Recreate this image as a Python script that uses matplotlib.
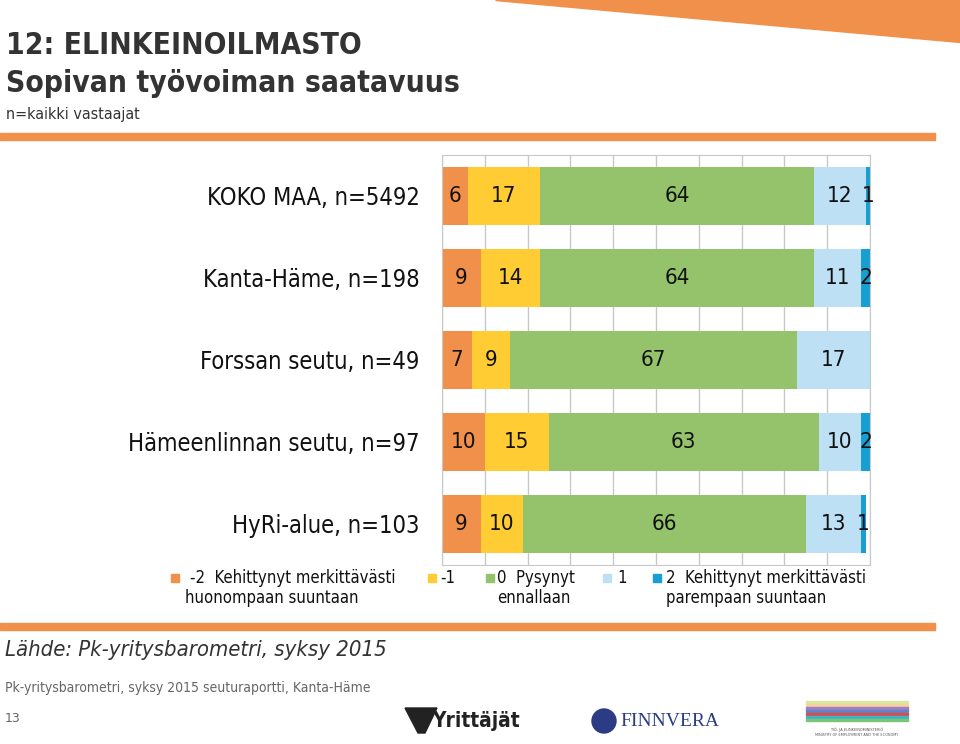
import matplotlib
matplotlib.use("Agg")
import matplotlib.pyplot as plt
from matplotlib.patches import Polygon, Rectangle, Ellipse

# Data
categories = ["KOKO MAA, n=5492", "Kanta-Häme, n=198", "Forssan seutu, n=49",
              "Hämeenlinnan seutu, n=97", "HyRi-alue, n=103"]
v_m2 = [6, 9, 7, 10, 9]
v_m1 = [17, 14, 9, 15, 10]
v_0 = [64, 64, 67, 63, 66]
v_p1 = [12, 11, 17, 10, 13]
v_p2 = [1, 2, 0, 2, 1]
series = [v_m2, v_m1, v_0, v_p1, v_p2]
colors = ["#F0904A", "#FFCC33", "#94C36C", "#BDE0F5", "#179FD2"]
legend_labels = ["-2  Kehittynyt merkittävästi\nhuonompaan suuntaan", "-1",
                 "0  Pysynyt\nennallaan", "1",
                 "2  Kehittynyt merkittävästi\nparempaan suuntaan"]

stretch = "condensed"
plt.rcParams['font.family'] = ["DejaVu Sans"]

fig = plt.figure(figsize=(9.6, 7.44), dpi=100)
W, H = 960, 744

def fx(x):
    return x / W

def fy(y):
    return 1 - y / H

# decorative wedge and bars
fig.patches.append(Polygon([[fx(495), fy(0)], [fx(960), fy(0)], [fx(960), fy(42)]],
                           closed=True, transform=fig.transFigure, color="#F0904A", zorder=0))
fig.patches.append(Rectangle((0, fy(140)), fx(935), 7 / H, transform=fig.transFigure,
                             color="#F0904A", zorder=0))
fig.patches.append(Rectangle((0, fy(630)), fx(935), 7 / H, transform=fig.transFigure,
                             color="#F0904A", zorder=0))

tc = "#333333"
fig.text(fx(6), fy(46), "12: ELINKEINOILMASTO", fontsize=21.5, fontweight="bold",
         color=tc, va="center", fontstretch=stretch)
fig.text(fx(6), fy(84), "Sopivan työvoiman saatavuus", fontsize=21.5, fontweight="bold",
         color=tc, va="center", fontstretch=stretch)
fig.text(fx(6), fy(114), "n=kaikki vastaajat", fontsize=11.5, color=tc, va="center",
         fontstretch=stretch)

# chart
ax = fig.add_axes([fx(442), fy(565), fx(870) - fx(442), (565 - 155) / H])
y = list(range(len(categories)))
left = [0] * len(categories)
for vals, col in zip(series, colors):
    ax.barh(y, vals, left=left, height=0.7, color=col, zorder=2)
    for i, v in enumerate(vals):
        if v > 0:
            ax.text(left[i] + v / 2, i, str(v), ha="center", va="center",
                    fontsize=16, color="#111111", zorder=3, fontstretch=stretch)
    left = [l + v for l, v in zip(left, vals)]

ax.set_xlim(0, 100)
ax.set_ylim(len(categories) - 0.5, -0.5)
ax.set_xticks(range(0, 101, 10))
ax.xaxis.grid(True, color="#C8C8C8", linewidth=1, zorder=0)
ax.set_axisbelow(True)
ax.tick_params(axis="x", length=0, labelbottom=False)
ax.tick_params(axis="y", length=0, pad=16)
ax.set_yticks(y)
ax.set_yticklabels(categories, fontsize=17, color="#111111", fontstretch=stretch)
for s in ax.spines.values():
    s.set_color("#C8C8C8")

# legend
leg_pos = [(175, 190), (432, 440), (490, 497), (607, 617), (657, 666)]
for (sx, tx), col, lab in zip(leg_pos, colors, legend_labels):
    fig.patches.append(Rectangle((fx(sx - 4), fy(582)), 8 / W, 8 / H,
                                 transform=fig.transFigure, color=col))
    lines = lab.split("\n")
    fig.text(fx(tx), fy(578), lines[0], fontsize=12, color="#111111", va="center",
             fontstretch=stretch)
    if len(lines) > 1:
        x2 = tx if sx != 175 else 185
        fig.text(fx(x2), fy(598), lines[1], fontsize=12, color="#111111", va="center",
                 fontstretch=stretch)

# footer
fig.text(fx(5), fy(650), "Lähde: Pk-yritysbarometri, syksy 2015", fontsize=15.8,
         style="italic", color=tc, va="center", fontstretch=stretch)
fig.text(fx(5), fy(688), "Pk-yritysbarometri, syksy 2015 seuturaportti, Kanta-Häme",
         fontsize=10, color="#666666", va="center", fontstretch=stretch)
fig.text(fx(5), fy(718), "13", fontsize=9, color="#666666", va="center")

# logo stand-ins
fig.patches.append(Polygon([[fx(405), fy(708)], [fx(437), fy(708)], [fx(425), fy(733)],
                            [fx(418), fy(733)]], closed=True, transform=fig.transFigure,
                           color="#222222"))
fig.text(fx(432), fy(721), "Yrittäjät", fontsize=15, fontweight="bold", color="#222222",
         va="center", fontstretch=stretch)
fig.patches.append(Ellipse((fx(604), fy(721)), 24 / W, 24 / H, transform=fig.transFigure,
                           color="#2B3C84"))
fig.text(fx(620), fy(722), "FINNVERA", fontsize=14, family="Liberation Serif",
         color="#2B3C84", va="center")
stripe_cols = ["#D9E8A0", "#F3D3A0", "#A57CC0", "#5E86CF", "#D84C4C", "#3FB4C8", "#7CC576"]
for k, c in enumerate(stripe_cols):
    fig.patches.append(Rectangle((fx(806), fy(703 + k * 3)), 102 / W, 2.5 / H,
                                 transform=fig.transFigure, color=c))
fig.text(fx(857), fy(732), "TYÖ- JA ELINKEINOMINISTERIÖ\nMINISTRY OF EMPLOYMENT AND THE ECONOMY",
         fontsize=2.5, color="#555555", ha="center", va="center")

fig.savefig("out.png", dpi=100)
